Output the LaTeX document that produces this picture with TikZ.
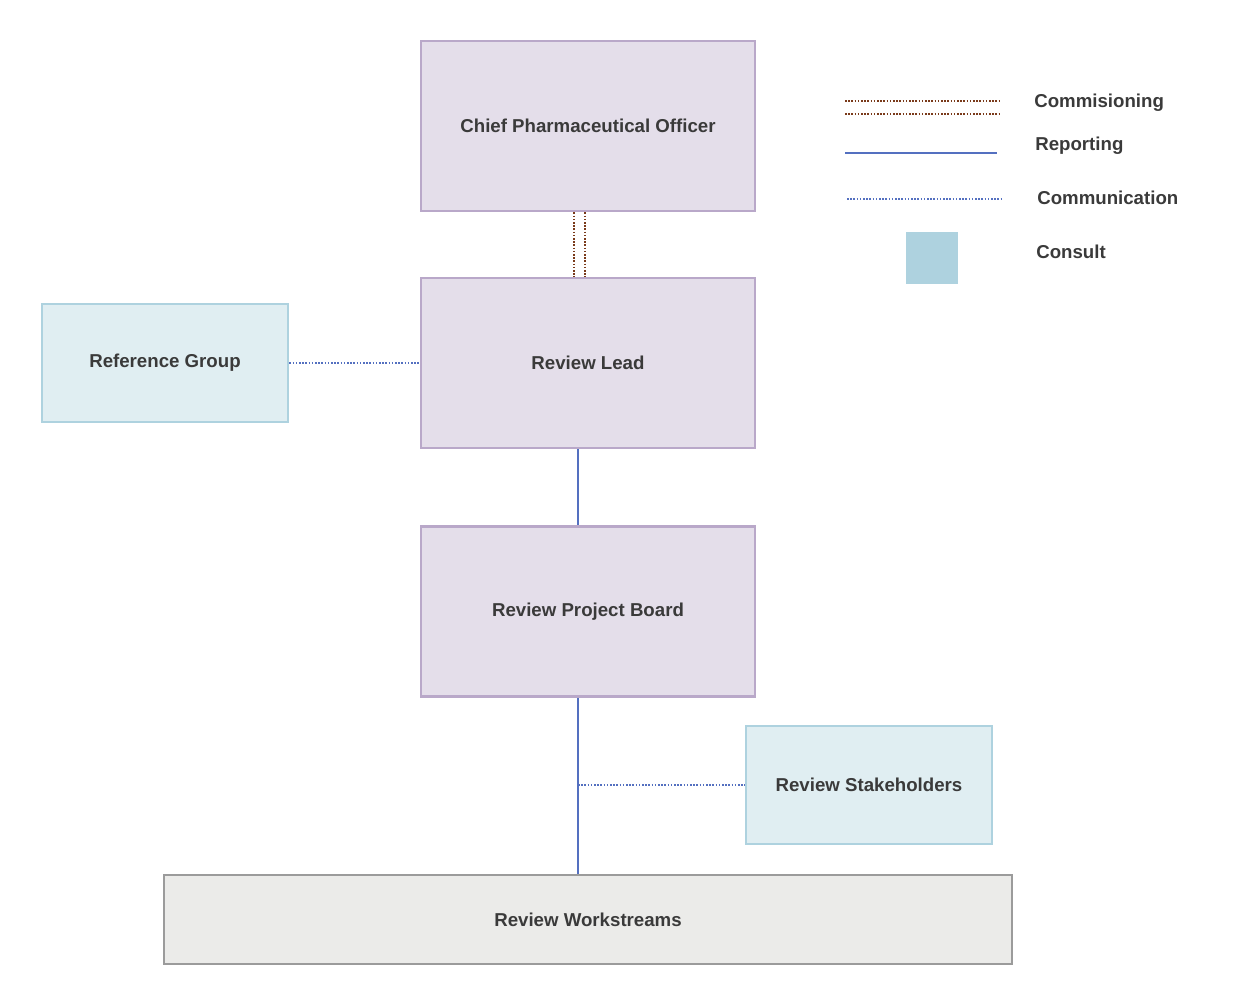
\documentclass[tikz,border=0pt]{standalone}
\usepackage{fontspec}
\setmainfont{Liberation Sans}
\usetikzlibrary{positioning}
\definecolor{boardfill}{RGB}{228,222,234}
\definecolor{boarddraw}{RGB}{185,168,201}
\definecolor{consfill}{RGB}{224,238,242}
\definecolor{consdraw}{RGB}{174,210,223}
\definecolor{workfill}{RGB}{235,235,233}
\definecolor{workdraw}{RGB}{155,155,155}
\definecolor{commis}{RGB}{122,58,26}
\definecolor{report}{RGB}{84,112,192}
\definecolor{txt}{RGB}{58,58,58}
\tikzset{
	box/.style={draw, line width=2.2pt, font=\bfseries\fontsize{14}{16}\selectfont, text=txt, inner sep=0pt},
	board/.style={box, fill=boardfill, draw=boarddraw, minimum width=250.5pt, minimum height=127.5pt},
	consult/.style={box, fill=consfill, draw=consdraw, minimum width=184.5pt, minimum height=88.5pt},
	legtext/.style={font=\bfseries\fontsize{14}{16}\selectfont, text=txt, anchor=west, inner sep=0pt},
	commisline/.style={commis, line width=2.2pt, dash pattern=on 1.2pt off 1.2pt},
	reportline/.style={report, line width=2.2pt},
	commline/.style={report, line width=2pt, dash pattern=on 1.2pt off 1.2pt}
}
\begin{document}
\begin{tikzpicture}[x=0.75pt,y=0.75pt,yscale=-1,xscale=1]
			\useasboundingbox (0,0) rectangle (1254,986);
			% boxes
			\node [board] (cpo) at (588,126) {Chief Pharmaceutical Officer};
			\node [board] (lead) at (588,363) {Review Lead};
			\node [board] (board) at (588,611.5) {Review Project Board};
			\node [consult] (refgrp) at (165,363) {Reference Group};
			\node [consult] (stake) at (869,785) {Review Stakeholders};
			\node [box, fill=workfill, draw=workdraw, minimum width=636pt, minimum height=66.75pt] (work) at (588,919.5) {Review Workstreams};
			% connectors
			\draw [commisline] ([xshift=-10.5pt]cpo.south) -- ([xshift=-10.5pt]lead.north);
			\draw [commisline] ([xshift=-2.25pt]cpo.south) -- ([xshift=-2.25pt]lead.north);
			\draw [reportline] ([xshift=-7.5pt]lead.south) -- ([xshift=-7.5pt]board.north);
			\draw [reportline] ([xshift=-7.5pt]board.south) -- ([xshift=-7.5pt]work.north);
			\draw [commline] (refgrp.east) -- (lead.west);
			\coordinate (tap) at (578,785);
			\draw [commline] (tap) -- (stake.west);
			% legend
			\coordinate (c1a) at (845,101); \coordinate (c1b) at (1000,101);
			\coordinate (c2a) at (845,114); \coordinate (c2b) at (1000,114);
			\coordinate (r1a) at (845,153); \coordinate (r1b) at (997,153);
			\coordinate (m1a) at (847,199); \coordinate (m1b) at (1001,199);
			\draw [commisline] (c1a) -- (c1b);
			\draw [commisline] (c2a) -- (c2b);
			\draw [reportline] (r1a) -- (r1b);
			\draw [commline] (m1a) -- (m1b);
			\fill [consdraw] (906,232) rectangle (958,284);
			\node [legtext] (lcommis) at (1034,103) {Commisioning};
			\node [legtext] (lreport) at (1035,146) {Reporting};
			\node [legtext] (lcomm) at (1037,198) {Communication};
			\node [legtext] (lcons) at (1036,252) {Consult};
		\end{tikzpicture}
\end{document}
